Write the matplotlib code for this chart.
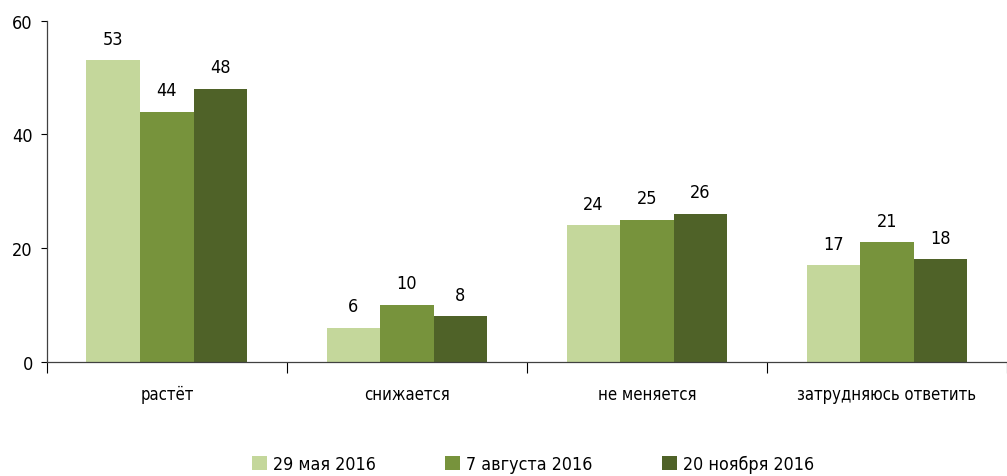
import matplotlib
matplotlib.use("Agg")
import matplotlib.pyplot as plt
import numpy as np

categories = ["растёт", "снижается", "не меняется", "затрудняюсь ответить"]
series_names = ["29 мая 2016", "7 августа 2016", "20 ноября 2016"]
may_2016 = [53, 6, 24, 17]
aug_2016 = [44, 10, 25, 21]
nov_2016 = [48, 8, 26, 18]
y_ticks = [0, 20, 40, 60]

colors = ["#C4D79B", "#77933C", "#4F6228"]

plt.rcParams["font.family"] = ["DejaVu Sans"]
plt.rcParams["font.stretch"] = "condensed"
plt.rcParams["font.size"] = 13

W, H = 1007, 477
fig = plt.figure(figsize=(W / 100, H / 100), dpi=100)
ax = fig.add_axes([46.8 / W, 114.3 / H, (W - 46.8) / W, 341 / H])

unit_px = 242.5
x = np.arange(len(categories))
bar_w = 54.1 / unit_px
for i, (vals, name, col) in enumerate(zip([may_2016, aug_2016, nov_2016], series_names, colors)):
    pos = x + (i - 1) * bar_w
    bars = ax.bar(pos, vals, width=bar_w, color=col, label=name, zorder=2)
    for b, v in zip(bars, vals):
        ax.annotate(str(v), (b.get_x() + b.get_width() / 2, v), xytext=(0, 9),
                    textcoords="offset points", ha="center", va="bottom", fontsize=13)

ax.set_ylim(0, 60)
ax.set_xlim(-0.5, -0.5 + (W - 46.8) / unit_px)
ax.set_yticks(y_ticks)
ax.tick_params(axis="y", length=4.5, width=0.8, pad=5.5, labelsize=13)

# category boundaries carry the tick marks, labels sit at the centres
ax.set_xticks(np.arange(len(categories) + 1) - 0.5)
ax.set_xticklabels([])
ax.set_xticks(x, minor=True)
ax.set_xticklabels(categories, minor=True)
ax.tick_params(axis="x", which="major", length=8, width=0.8, direction="out")
ax.tick_params(axis="x", which="minor", length=0, pad=17, labelsize=12)

for s in ["top", "right"]:
    ax.spines[s].set_visible(False)
for s in ["left", "bottom"]:
    ax.spines[s].set_color("#404040")
    ax.spines[s].set_linewidth(0.9)

fig.legend(loc="center", bbox_to_anchor=(533 / W, 1 - 465 / H), ncol=3, frameon=False,
           fontsize=12.75, handlelength=0.85, handleheight=0.85, handletextpad=0.35,
           columnspacing=3.9)

fig.savefig("out.png", dpi=100)
